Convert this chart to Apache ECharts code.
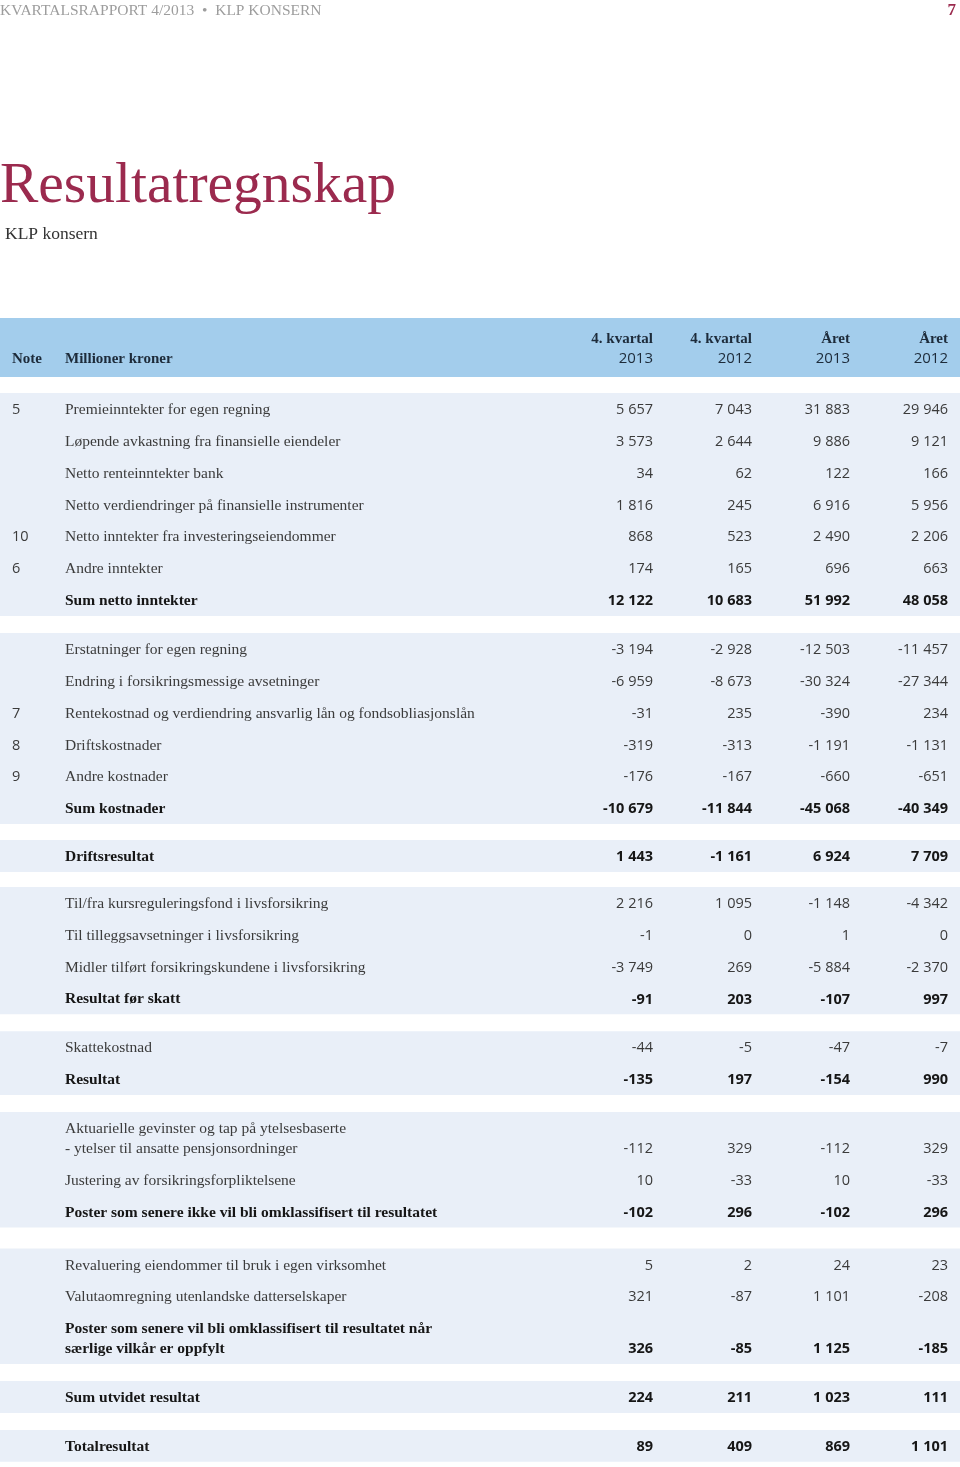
<!DOCTYPE html>
<html>
<head>
<meta charset="utf-8">
<script src="https://cdn.jsdelivr.net/npm/echarts@6/dist/echarts.min.js"></script>
<style>
html,body{margin:0;padding:0;background:#fff;}
#chart{width:960px;height:1467px;}
</style>
</head>
<body>
<div id="chart"></div>
<script>
// ---------------- DATA ----------------
const columnHeadersTop = ['4. kvartal', '4. kvartal', 'Året', 'Året'];
const columnHeadersBottom = ['2013', '2012', '2013', '2012'];
const notes = ['5','','','','10','6','', '','','7','8','9','', '', '','','','', '','', '','','', '','','', '', ''];
const labels = [
  'Premieinntekter for egen regning',
  'Løpende avkastning fra finansielle eiendeler',
  'Netto renteinntekter bank',
  'Netto verdiendringer på finansielle instrumenter',
  'Netto inntekter fra investeringseiendommer',
  'Andre inntekter',
  'Sum netto inntekter',
  'Erstatninger for egen regning',
  'Endring i forsikringsmessige avsetninger',
  'Rentekostnad og verdiendring ansvarlig lån og fondsobliasjonslån',
  'Driftskostnader',
  'Andre kostnader',
  'Sum kostnader',
  'Driftsresultat',
  'Til/fra kursreguleringsfond i livsforsikring',
  'Til tilleggsavsetninger i livsforsikring',
  'Midler tilført forsikringskundene i livsforsikring',
  'Resultat før skatt',
  'Skattekostnad',
  'Resultat',
  'Aktuarielle gevinster og tap på ytelsesbaserte\n- ytelser til ansatte pensjonsordninger',
  'Justering av forsikringsforpliktelsene',
  'Poster som senere ikke vil bli omklassifisert til resultatet',
  'Revaluering eiendommer til bruk i egen virksomhet',
  'Valutaomregning utenlandske datterselskaper',
  'Poster som senere vil bli omklassifisert til resultatet når\nsærlige vilkår er oppfylt',
  'Sum utvidet resultat',
  'Totalresultat'
];
const q4_2013 = [5657, 3573, 34, 1816, 868, 174, 12122, -3194, -6959, -31, -319, -176, -10679, 1443, 2216, -1, -3749, -91, -44, -135, -112, 10, -102, 5, 321, 326, 224, 89];
const q4_2012 = [7043, 2644, 62, 245, 523, 165, 10683, -2928, -8673, 235, -313, -167, -11844, -1161, 1095, 0, 269, 203, -5, 197, 329, -33, 296, 2, -87, -85, 211, 409];
const year2013 = [31883, 9886, 122, 6916, 2490, 696, 51992, -12503, -30324, -390, -1191, -660, -45068, 6924, -1148, 1, -5884, -107, -47, -154, -112, 10, -102, 24, 1101, 1125, 1023, 869];
const year2012 = [29946, 9121, 166, 5956, 2206, 663, 48058, -11457, -27344, 234, -1131, -651, -40349, 7709, -4342, 0, -2370, 997, -7, 990, 329, -33, 296, 23, -208, -185, 111, 1101];
const boldRows = [6, 12, 13, 17, 19, 22, 25, 26, 27];
const sectionSizes = [7, 6, 1, 4, 2, 3, 3, 1, 1];

// ---------------- LAYOUT ----------------
const W = 960, H = 1467;
const headerTop = 318, headerBottom = 377;
const bodyTop = 393, rowH = 31.85, extraLine = 20;
const sectionGaps = [17, 16, 15, 17, 17, 21, 17, 17];
const colNoteX = 12, colLabelX = 65;
const numColX = [653, 752, 850, 948];

const labelFont = '"Liberation Serif", serif';
const numFont = '"Open Sans", "Noto Sans", sans-serif';
const textColor = '#3b3b3b';
const boldColor = '#161616';

// compute row positions & band extents
const rowCenter = [], rowNumY = [], bands = [];
let y = bodyTop, r = 0;
sectionSizes.forEach((n, si) => {
  const start = y;
  for (let k = 0; k < n; k++, r++) {
    const lines = labels[r].split('\n').length;
    const h = rowH + (lines - 1) * extraLine;
    rowCenter.push(y + h / 2);
    rowNumY.push(y + h / 2 + (lines - 1) * extraLine / 2);
    y += h;
  }
  bands.push([start, y]);
  y += sectionGaps[si] || 0;
});

function fmt(v) {
  const s = Math.abs(v).toString().replace(/\B(?=(\d{3})+(?!\d))/g, ' ');
  return (v < 0 ? '-' : '') + s;
}

// text cells
const cells = [];
cells.push({x: colNoteX, y: 358, text: 'Note', align: 'left', font: labelFont, bold: true, color: '#1d2b3a', size: 15});
cells.push({x: colLabelX, y: 358, text: 'Millioner kroner', align: 'left', font: labelFont, bold: true, color: '#1d2b3a', size: 15});
numColX.forEach((cx, i) => {
  cells.push({x: cx, y: 338, text: columnHeadersTop[i], align: 'right', font: labelFont, bold: true, color: '#1d2b3a', size: 15});
  cells.push({x: cx, y: 358, text: columnHeadersBottom[i], align: 'right', font: numFont, bold: false, color: '#1d2b3a', size: 15});
});
const valueCols = [q4_2013, q4_2012, year2013, year2012];
labels.forEach((lab, i) => {
  const b = boldRows.indexOf(i) >= 0;
  if (notes[i]) cells.push({x: colNoteX, y: rowNumY[i], text: notes[i], align: 'left', font: numFont, bold: false, color: textColor, size: 14.5});
  cells.push({x: colLabelX, y: rowCenter[i], text: lab, align: 'left', font: labelFont, bold: b, color: b ? boldColor : textColor, size: 15.5, lh: 20});
  valueCols.forEach((arr, c) => {
    cells.push({x: numColX[c], y: rowNumY[i], text: fmt(arr[i]), align: 'right', font: numFont, bold: b, color: b ? boldColor : textColor, size: 14.5});
  });
});

const bandRects = [[headerTop, headerBottom, '#a3cdec']].concat(bands.map(b => [b[0], b[1], '#e9eff8']));

const chart = echarts.init(document.getElementById('chart'), null, {renderer: 'canvas'});
chart.setOption({
  animation: false,
  backgroundColor: '#ffffff',
  title: [
    {text: 'KVARTALSRAPPORT 4/2013  •  KLP KONSERN', left: 0, top: 3, padding: 0, textStyle: {fontFamily: labelFont, fontSize: 15.5, fontWeight: 'normal', color: '#9d9d9d'}},
    {text: '7', right: 4, top: 2, padding: 0, textStyle: {fontFamily: labelFont, fontSize: 17, fontWeight: 'bold', color: '#9b2a4e'}},
    {text: 'Resultatregnskap', left: 0, top: 158, padding: 0, textStyle: {fontFamily: labelFont, fontSize: 57.5, fontWeight: 'normal', color: '#9b2a4e'}},
    {text: 'KLP konsern', left: 5, top: 225, padding: 0, textStyle: {fontFamily: labelFont, fontSize: 17.5, fontWeight: 'normal', color: '#333333'}}
  ],
  grid: {left: 0, right: 0, top: 0, bottom: 0},
  xAxis: {type: 'value', min: 0, max: W, show: false},
  yAxis: {type: 'value', min: 0, max: H, inverse: true, show: false},
  series: [
    {
      type: 'custom',
      silent: true,
      data: bandRects.map(b => [b[0], b[1]]),
      encode: {x: -1, y: [0, 1]},
      renderItem: function (params, api) {
        const b = bandRects[params.dataIndex];
        const p0 = api.coord([0, b[0]]);
        const p1 = api.coord([W, b[1]]);
        return {type: 'rect', shape: {x: p0[0], y: p0[1], width: p1[0] - p0[0], height: p1[1] - p0[1]}, style: {fill: b[2]}};
      },
      z: 1
    },
    {
      type: 'custom',
      silent: true,
      data: cells.map(c => [c.x, c.y]),
      encode: {x: 0, y: 1},
      renderItem: function (params, api) {
        const c = cells[params.dataIndex];
        const p = api.coord([api.value(0), api.value(1)]);
        return {
          type: 'text', x: p[0], y: p[1] + 1,
          style: {
            text: c.text, fill: c.color,
            fontFamily: c.font, fontSize: c.size, fontWeight: c.bold ? 'bold' : 'normal',
            align: c.align, verticalAlign: 'middle', lineHeight: c.lh || c.size * 1.2
          }
        };
      },
      z: 2
    }
  ]
});
</script>
</body>
</html>
